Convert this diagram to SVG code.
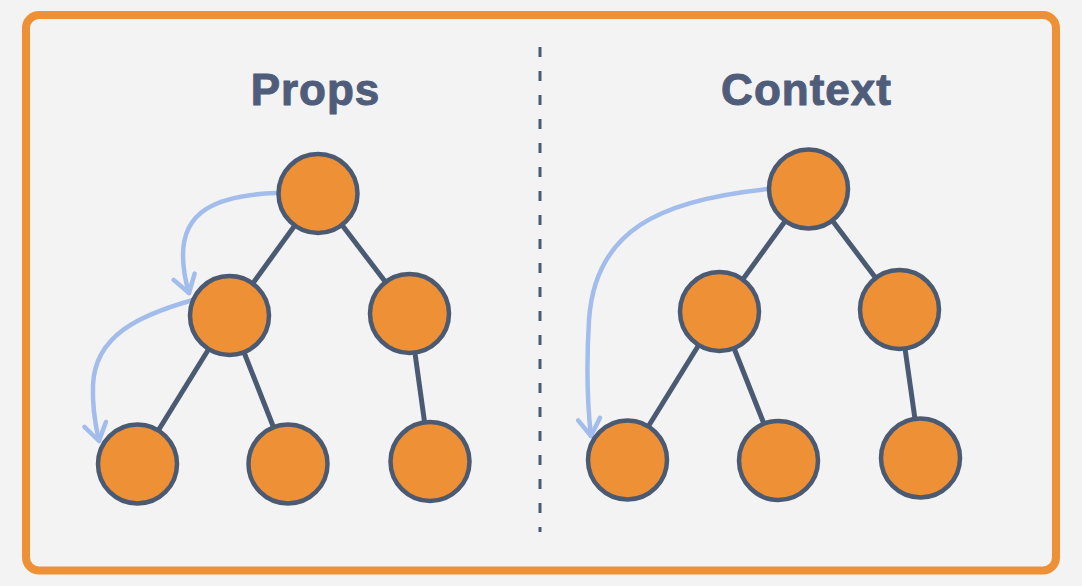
<svg xmlns="http://www.w3.org/2000/svg" width="1082" height="586" viewBox="0 0 1082 586">
  <style>
    .title { font-family: "Liberation Sans", Arial, sans-serif; font-weight: bold; font-size: 44px; fill: #4f5d7a; stroke: #4f5d7a; stroke-width: 1; stroke-linejoin: round; letter-spacing: 1px; text-anchor: middle; }
    .node { fill: #ee9035; stroke: #4b5a73; stroke-width: 4.5; }
    .edge { stroke: #4b5a73; stroke-width: 5; fill: none; }
    .flow { stroke: #a2bdeb; stroke-width: 4.5; fill: none; stroke-linecap: round; marker-end: url(#chev); }
  </style>
  <defs>
    <marker id="chev" markerUnits="userSpaceOnUse" markerWidth="40" markerHeight="40" viewBox="-20 -20 40 40" refX="0" refY="0" orient="auto" overflow="visible">
      <path d="M-17,-11 L0,0 L-17,11" fill="none" stroke="#a2bdeb" stroke-width="4.5" stroke-linecap="round" stroke-linejoin="round"/>
    </marker>
  </defs>
  <rect x="0" y="0" width="1082" height="586" fill="#f3f3f3"/>
  <rect x="26" y="15" width="1030" height="555.5" rx="13" ry="13" fill="#f3f3f3" stroke="#ee9035" stroke-width="8"/>
  <line x1="540" y1="47" x2="540" y2="532" stroke="#4b5a73" stroke-width="3" stroke-dasharray="10 14"/>
  <text class="title" x="315.5" y="105">Props</text>
  <text class="title" x="806.5" y="105">Context</text>
  <g id="connectors">
    <line class="edge" x1="318" y1="193.5" x2="229.5" y2="315.5"/>
    <line class="edge" x1="318" y1="193.5" x2="409.5" y2="313.5"/>
    <line class="edge" x1="229.5" y1="315.5" x2="137.5" y2="464"/>
    <line class="edge" x1="229.5" y1="315.5" x2="288" y2="464"/>
    <line class="edge" x1="409.5" y1="313.5" x2="430" y2="461.5"/>
    <line class="edge" x1="808.5" y1="189" x2="719.5" y2="311.5"/>
    <line class="edge" x1="808.5" y1="189" x2="899.5" y2="309.5"/>
    <line class="edge" x1="719.5" y1="311.5" x2="627.5" y2="460"/>
    <line class="edge" x1="719.5" y1="311.5" x2="778.5" y2="460.5"/>
    <line class="edge" x1="899.5" y1="309.5" x2="920.5" y2="458"/>
    <path class="flow" d="M277,193 C215,195 183,212 183,255 C183,272 186,283 189,293"/>
    <path class="flow" d="M193,300 C140,315 95,335 93,385 C92,410 96,428 99,441"/>
    <path class="flow" d="M768,189 C660,200 595,230 589,320 C586,370 588,410 591,436"/>
  </g>
  <g id="props-root"><circle class="node" cx="318" cy="193.5" r="39.5"/></g>
  <g id="props-mid-left"><circle class="node" cx="229.5" cy="315.5" r="39.5"/></g>
  <g id="props-mid-right"><circle class="node" cx="409.5" cy="313.5" r="39.5"/></g>
  <g id="props-leaf-1"><circle class="node" cx="137.5" cy="464" r="39.5"/></g>
  <g id="props-leaf-2"><circle class="node" cx="288" cy="464" r="39.5"/></g>
  <g id="props-leaf-3"><circle class="node" cx="430" cy="461.5" r="39.5"/></g>
  <g id="context-root"><circle class="node" cx="808.5" cy="189" r="39.5"/></g>
  <g id="context-mid-left"><circle class="node" cx="719.5" cy="311.5" r="39.5"/></g>
  <g id="context-mid-right"><circle class="node" cx="899.5" cy="309.5" r="39.5"/></g>
  <g id="context-leaf-1"><circle class="node" cx="627.5" cy="460" r="39.5"/></g>
  <g id="context-leaf-2"><circle class="node" cx="778.5" cy="460.5" r="39.5"/></g>
  <g id="context-leaf-3"><circle class="node" cx="920.5" cy="458" r="39.5"/></g>
</svg>
